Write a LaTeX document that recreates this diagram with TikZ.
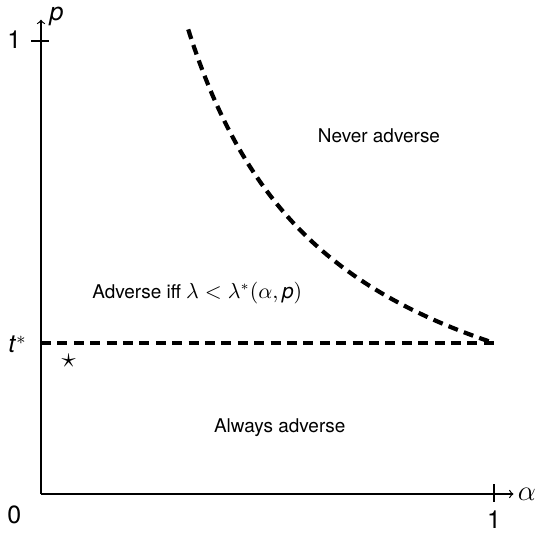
\documentclass[tikz,border=0pt]{standalone}
\usepackage{fontspec}
\setmainfont{TeX Gyre Heros}
\begin{document}
\begin{tikzpicture}[x=226.5bp,y=226.5bp,
  axis/.style={line width=0.6bp,->,>=to},
  bound/.style={line width=2.1bp,dash pattern=on 5bp off 3.2bp},
  ticklab/.style={font=\fontsize{12.5}{14}\selectfont},
  region/.style={font=\fontsize{9.5}{11}\selectfont}]
\useasboundingbox (-0.0905,-0.0883) rectangle (1.1126,1.0905);
\coordinate (O) at (0,0);
\coordinate (xend) at (1.043,0);
\coordinate (yend) at (0,1.047);
\draw[axis] (O) -- (xend);
\draw[axis] (O) -- (yend);
\draw[line width=0.6bp] (-0.021,1) -- (0.017,1);
\draw[line width=0.6bp] (1,-0.017) -- (1,0.021);
\node[ticklab] (one-y) at (-0.059,1.002) {1};
\node[ticklab] (zero) at (-0.059,-0.046) {0};
\node[ticklab] (one-x) at (1,-0.057) {1};
\node[ticklab] (tstar) at (-0.052,0.33) {\textit{t}$^*$};
\node[ticklab,anchor=south west,inner sep=0pt] (plab) at (0.018,1.033) {\textit{p}};
\node[font=\fontsize{15}{17}\selectfont,anchor=west,inner sep=2pt] (alab) at (xend) {$\alpha$};
\draw[bound] (0,1/3) -- (1,1/3);
\draw[bound,domain=0.325:1,samples=80,smooth] plot (\x,{1/(3*\x)});
\node[font=\fontsize{14}{16}\selectfont] (star) at (0.061,0.293) {$\star$};
\node[region] (never) at (0.746,0.79) {Never adverse};
\node[region] (iff) at (0.345,0.444) {Adverse iff {\fontsize{10.5}{12}\selectfont$\lambda<\lambda^*(\alpha,\textit{p})$}};
\node[region] (always) at (0.527,0.147) {Always adverse};
\end{tikzpicture}
\end{document}
